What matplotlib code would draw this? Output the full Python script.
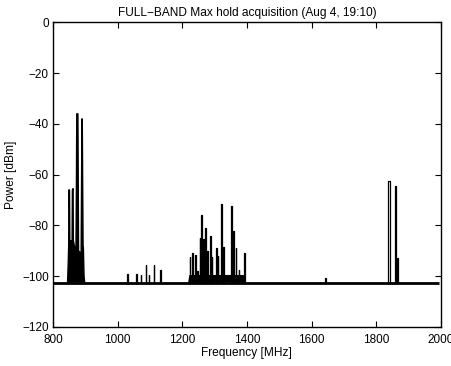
import matplotlib
matplotlib.use("Agg")
import matplotlib.pyplot as plt

plt.rcParams['font.family'] = ['Liberation Sans', 'DejaVu Sans']

# ---- data ----
title = "FULL\u2212BAND Max hold acquisition (Aug 4, 19:10)"
x_label = "Frequency [MHz]"
y_label = "Power [dBm]"
x_ticks = [800, 1000, 1200, 1400, 1600, 1800, 2000]
y_ticks = [0, -20, -40, -60, -80, -100, -120]

floor_freq = [800, 2000 - 5]
floor_power = [-102.5, -102.5]

# GSM-900 band envelope
gsm900_freq = [845, 847, 848.5, 849, 851, 852, 859, 860, 862, 863, 866, 871, 872.5,
               873.5, 877, 878, 879, 887, 889.5, 890.5, 893, 894, 896, 898]
gsm900_power = [-102.5, -95, -88, -66, -66, -86, -86, -66, -65.5, -86, -88, -90, -62,
                -36, -36, -62, -90, -91, -38, -38, -88, -89, -100, -102.5]

# discrete carriers: centre frequency, max-hold level, occupied width (MHz)
peak_freq = [1030, 1059, 1072, 1088, 1097, 1113, 1132,
             1224, 1232, 1240, 1247, 1255, 1259, 1266, 1273, 1278, 1287, 1292,
             1305, 1310, 1321, 1328, 1351, 1359, 1366, 1375, 1392, 1643,
             1840, 1860, 1866]
peak_power = [-99, -99, -99.5, -95.5, -99.5, -95.5, -97.5,
              -92.5, -91, -91.5, -98, -85, -76, -85.5, -81, -90, -84, -92.5,
              -89, -92, -71.5, -88.5, -72.5, -82, -89, -97.5, -91, -100.5,
              -62.5, -64.5, -93]
peak_width = [1.5, 1.5, 1.5, 2, 1.5, 2, 1.5,
              2, 2, 2, 1.5, 2, 3, 3, 3, 2, 3, 2,
              3, 2, 3, 2, 3, 3, 2, 2, 2, 1.5,
              8, 3, 4]

# dense base of the 1.2-1.4 GHz cluster
cluster_freq = [1218, 1222, 1390, 1398]
cluster_power = [-102.5, -99.5, -99.5, -102.5]

# ---- figure ----
fig = plt.figure(figsize=(4.52, 3.66), dpi=100)
ax = fig.add_axes([0.1173, 0.1066, 0.858, 0.832])

col = 'black'
ax.plot(floor_freq, floor_power, color=col, lw=2.0, solid_capstyle='butt')
ax.plot(gsm900_freq, gsm900_power, color=col, lw=1.0)
ax.fill(gsm900_freq, gsm900_power, color=col, lw=0)
ax.fill(cluster_freq, cluster_power, color=col, lw=0)

for f, p, w in zip(peak_freq, peak_power, peak_width):
    xs = [f - w / 2, f - w / 2, f + w / 2, f + w / 2]
    ys = [floor_power[0], p, p, floor_power[0]]
    ax.plot(xs, ys, color=col, lw=0.9)

ax.set_xlim(800, 2000)
ax.set_ylim(-120, 0)
ax.set_xticks(x_ticks)
ax.set_yticks(y_ticks)
ax.set_xticklabels([str(t) for t in x_ticks])
ax.set_yticklabels([str(t).replace('-', '\u2212') for t in y_ticks])
ax.tick_params(direction='in', top=True, right=True, length=4, width=0.8,
               labelsize=8.5)
ax.tick_params(axis='x', pad=5)
ax.tick_params(axis='y', pad=3)
for s in ax.spines.values():
    s.set_linewidth(1.0)

ax.set_title(title, fontsize=8.6, pad=5)
ax.set_xlabel(x_label, fontsize=8.6, labelpad=1)
ax.set_ylabel(y_label, fontsize=8.6, labelpad=4)

fig.savefig("out.png", dpi=100)
